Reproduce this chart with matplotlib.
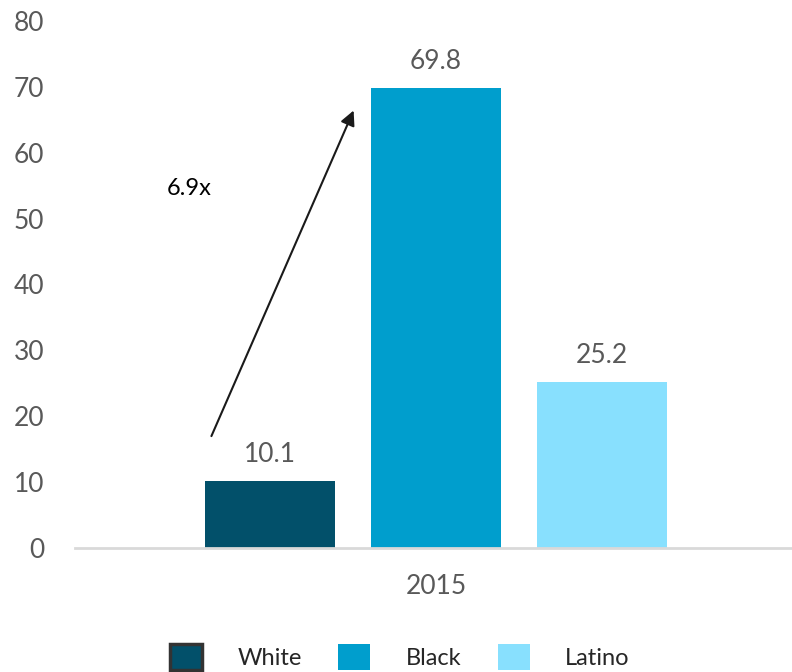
import matplotlib.pyplot as plt
from matplotlib.patches import Patch

plt.rcParams['font.family'] = ['Lato', 'DejaVu Sans']

groups = ['White', 'Black', 'Latino']
values = [10.1, 69.8, 25.2]
colors = ['#02506a', '#009ecd', '#88e0fe']
year = '2015'
yticks = [0, 10, 20, 30, 40, 50, 60, 70, 80]

fig = plt.figure(figsize=(7.92, 6.72), dpi=100)
ax = fig.add_axes([75 / 792, 124 / 672, 717 / 792, 527 / 672])

pos = [-1, 0, 1]
ax.bar(pos, values, width=0.785, color=colors, linewidth=0)

for x, v in zip(pos, values):
    ax.text(x, v + 2.2, f'{v:.1f}', ha='center', va='bottom', fontsize=19, color='#595959')

# arrow from white bar up to black bar
ax.annotate('', xy=(-0.49, 66.8), xytext=(-1.36, 16.6),
            arrowprops=dict(arrowstyle='-|>', color='#1a1a1a', lw=1.5, mutation_scale=22))
ax.text(-1.49, 54.5, '6.9x', ha='center', va='center', fontsize=17, color='black')

ax.set_xlim(-2.175, 2.144)
ax.set_ylim(0, 80)
ax.set_yticks(yticks)
ax.set_xticks([0])
ax.set_xticklabels([year])
ax.tick_params(axis='both', length=0, labelsize=19, colors='#595959')
ax.tick_params(axis='x', pad=19)
ax.tick_params(axis='y', pad=22)

for s in ['top', 'right', 'left']:
    ax.spines[s].set_visible(False)
ax.spines['bottom'].set_color('#d9d9d9')
ax.spines['bottom'].set_linewidth(2)

handles = [Patch(facecolor=colors[0], edgecolor='#333333', linewidth=2.5),
           Patch(facecolor=colors[1], edgecolor='none'),
           Patch(facecolor=colors[2], edgecolor='none')]
fig.legend(handles, groups, loc='center', bbox_to_anchor=(0.505, 1 - 657 / 672),
           bbox_transform=fig.transFigure, ncol=3, frameon=False, fontsize=17,
           handlelength=1.35, handleheight=1.35, columnspacing=1.55, handletextpad=1.5,
           labelcolor='#262626')

fig.savefig('out.png', dpi=100)
